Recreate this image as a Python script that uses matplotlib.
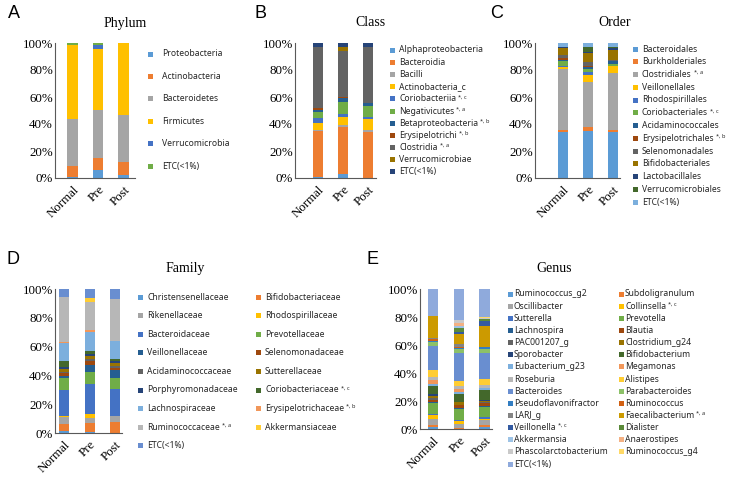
import numpy as np
import matplotlib
matplotlib.use("Agg")
import matplotlib.pyplot as plt
from matplotlib.patches import Rectangle

# taxonomic composition, % per group, stacked bottom -> top
groups = ["Normal", "Pre", "Post"]

phylum_names = ["Proteobacteria", "Actinobacteria", "Bacteroidetes", "Firmicutes",
                "Verrucomicrobia", "ETC(<1%)"]
phylum_sup = [""] * 6
phylum_vals = [[0.5, 5.9, 2.0],
               [8.4, 8.7, 10.0],
               [34.8, 35.5, 34.5],
               [54.8, 45.2, 53.2],
               [0.2, 3.2, 0.0],
               [1.3, 1.5, 0.3]]

class_names = ["Alphaproteobacteria", "Bacteroidia", "Bacilli", "Actinobacteria_c",
               "Coriobacteriia", "Negativicutes", "Betaproteobacteria", "Erysipelotrichi",
               "Clostridia", "Verrucomicrobiae", "ETC(<1%)"]
class_sup = ["", "", "", "", "*, c", "*, a", "*, b", "*, b", "*, a", "", ""]
class_vals = [[1.0, 2.7, 0.3],
              [33.8, 35.3, 34.0],
              [1.0, 1.3, 1.2],
              [5.2, 6.1, 8.2],
              [3.7, 2.3, 1.7],
              [4.4, 8.8, 8.2],
              [1.0, 2.5, 1.7],
              [1.5, 1.2, 0.3],
              [45.7, 33.8, 41.7],
              [0.0, 3.0, 0.0],
              [2.7, 3.0, 2.7]]

order_names = ["Bacteroidales", "Burkholderiales", "Clostridiales", "Veillonellales",
               "Rhodospirillales", "Coriobacteriales", "Acidaminococcales",
               "Erysipelotrichales", "Selenomonadales", "Bifidobacteriales",
               "Lactobacillales", "Verrucomicrobiales", "ETC(<1%)"]
order_sup = ["", "", "*, a", "", "", "*, c", "", "*, b", "", "", "", "", ""]
order_vals = [[34.3, 35.0, 34.0],
              [1.2, 2.8, 1.3],
              [45.2, 33.6, 42.2],
              [1.3, 4.9, 5.5],
              [0.7, 2.5, 0.3],
              [4.0, 1.9, 1.2],
              [0.7, 1.3, 2.0],
              [1.2, 1.2, 0.5],
              [2.5, 3.0, 0.5],
              [4.9, 6.1, 7.5],
              [1.0, 1.3, 1.5],
              [0.0, 3.2, 0.2],
              [3.0, 3.2, 3.3]]

family_names = ["Christensenellaceae", "Bifidobacteriaceae", "Rikenellaceae",
                "Rhodospirillaceae", "Bacteroidaceae", "Prevotellaceae",
                "Veillonellaceae", "Selenomonadaceae", "Acidaminococcaceae",
                "Sutterellaceae", "Porphyromonadaceae", "Coriobacteriaceae",
                "Lachnospiraceae", "Erysipelotrichaceae", "Ruminococcaceae",
                "Akkermansiaceae", "ETC(<1%)"]
family_sup = [""] * 11 + ["*, c", "", "*, b", "*, a", "", ""]
family_vals = [[1.6, 0.7, 0.3],
               [4.7, 6.0, 7.6],
               [4.6, 3.7, 3.9],
               [1.1, 2.6, 0.0],
               [17.9, 21.0, 18.5],
               [8.5, 8.1, 8.1],
               [1.4, 5.1, 5.4],
               [2.1, 2.8, 1.1],
               [0.7, 1.2, 1.9],
               [1.6, 2.0, 1.6],
               [1.8, 1.7, 1.6],
               [4.0, 2.0, 1.4],
               [12.3, 13.0, 12.5],
               [1.1, 1.4, 0.0],
               [30.8, 19.7, 29.1],
               [0.0, 2.8, 0.0],
               [5.8, 6.2, 7.0]]

genus_names = ["Ruminococcus_g2", "Subdoligranulum", "Oscillibacter", "Collinsella",
               "Sutterella", "Prevotella", "Lachnospira", "Blautia", "PAC001207_g",
               "Clostridium_g24", "Sporobacter", "Bifidobacterium", "Eubacterium_g23",
               "Megamonas", "Roseburia", "Alistipes", "Bacteroides", "Parabacteroides",
               "Pseudoflavonifractor", "Ruminococcus", "LARJ_g", "Faecalibacterium",
               "Veillonella", "Dialister", "Akkermansia", "Anaerostipes",
               "Phascolarctobacterium", "Ruminococcus_g4", "ETC(<1%)"]
genus_sup = ["", "", "", "*, c"] + [""] * 17 + ["*, a", "*, c"] + [""] * 6
genus_vals = [[1.2, 0.3, 1.2],
              [1.4, 0.3, 1.4],
              [4.5, 3.2, 4.1],
              [2.6, 1.7, 0.3],
              [1.0, 0.7, 1.3],
              [7.8, 8.1, 7.4],
              [0.7, 0.9, 0.9],
              [1.7, 1.7, 1.9],
              [1.2, 0.5, 1.0],
              [1.7, 1.6, 0.3],
              [1.4, 0.3, 0.6],
              [5.2, 5.9, 7.2],
              [1.9, 0.9, 1.6],
              [2.4, 2.4, 0.3],
              [2.4, 1.9, 2.1],
              [4.7, 3.6, 4.3],
              [17.8, 20.6, 18.7],
              [2.2, 2.4, 2.4],
              [1.1, 1.2, 1.4],
              [1.2, 0.2, 0.3],
              [1.2, 2.4, 0.2],
              [15.5, 7.1, 14.7],
              [0.0, 1.2, 3.8],
              [0.0, 2.9, 1.2],
              [0.0, 1.6, 0.2],
              [0.0, 2.4, 0.0],
              [0.0, 1.9, 0.3],
              [0.0, 0.0, 0.7],
              [19.2, 22.1, 20.2]]

# office-style series colours, in series order
office = ["#5B9BD5", "#ED7D31", "#A5A5A5", "#FFC000", "#4472C4", "#70AD47",
          "#255E91", "#9E480E", "#636363", "#997300", "#264478", "#43682B",
          "#7CAFDD", "#F1975A", "#B7B7B7", "#FFCD33", "#698ED0", "#8CC168",
          "#327DC2", "#D26012", "#848484", "#CC9A00", "#335AA1", "#5A8A39",
          "#9DC3E6", "#F4B183", "#C9C9C9", "#FFD966", "#8FAADC"]

W, H = 730, 483
fig = plt.figure(figsize=(W / 100, H / 100), dpi=100)
renderer = fig.canvas.get_renderer()

serif = "Liberation Serif"
sans = "Noto Sans"


def panel(vals, rect, xlim):
    x0, x1, ytop, ybot = rect
    ax = fig.add_axes([x0 / W, 1 - ybot / H, (x1 - x0) / W, (ybot - ytop) / H])
    x = np.arange(len(groups))
    bottom = np.zeros(len(groups))
    for i, v in enumerate(vals):
        ax.bar(x, v, 0.4, bottom=bottom, color=office[i], linewidth=0)
        bottom += np.array(v)
    ax.set_xlim(*xlim)
    ax.set_ylim(0, 100)
    ax.set_yticks(range(0, 101, 20))
    ax.set_yticklabels([f"{t}%" for t in range(0, 101, 20)], fontfamily=serif, fontsize=9.3)
    ax.set_xticks(x)
    ax.set_xticklabels(groups, fontfamily=serif, fontsize=9.3, rotation=45,
                       ha="right", rotation_mode="anchor")
    ax.tick_params(axis="y", length=0, pad=1.5)
    ax.tick_params(axis="x", length=0, pad=4)
    for s in ["top", "right"]:
        ax.spines[s].set_visible(False)
    for s in ["left", "bottom"]:
        ax.spines[s].set_color("#595959")
        ax.spines[s].set_linewidth(0.8)
    return ax


def legend(names, sups, xsq, xtxt, y0, dy, ncol=1, coldx=0):
    sq = 5
    for i, lab in enumerate(names):
        r, c = divmod(i, ncol)
        y = y0 + r * dy
        fig.patches.append(Rectangle(((xsq + c * coldx) / W, 1 - (y + sq / 2) / H),
                                     sq / W, sq / H, transform=fig.transFigure,
                                     color=office[i], linewidth=0))
        t = fig.text((xtxt + c * coldx) / W, 1 - y / H, lab, fontfamily=sans,
                     fontsize=6.2, va="center", color="#262626")
        if sups[i]:
            bb = t.get_window_extent(renderer)
            fig.text((bb.x1 + 2) / W, 1 - (y - 2) / H, sups[i], fontfamily=sans,
                     fontsize=4, va="center", color="#262626")


panel(phylum_vals, (55, 135, 43, 178), (-0.69, 2.45))
panel(class_vals, (295, 376, 43, 178), (-0.89, 2.3))
panel(order_vals, (535, 620, 43, 178), (-1.09, 2.26))
panel(family_vals, (55, 122, 289, 433), (-0.36, 2.27))
panel(genus_vals, (420, 492, 289, 429), (-0.52, 2.29))

legend(phylum_names, phylum_sup, 148, 162, 54, 22.4)
legend(class_names, class_sup, 390, 399, 50, 12.2)
legend(order_names, order_sup, 633, 642, 49, 12.75)
legend(family_names, family_sup, 138, 147, 297, 18.6, ncol=2, coldx=118)
legend(genus_names, genus_sup, 508, 514, 294, 12.15, ncol=2, coldx=111)

for lab, xp, yp in [("Phylum", 125, 26.7), ("Class", 370, 26), ("Order", 615, 26),
                    ("Family", 185, 272), ("Genus", 554, 271.7)]:
    fig.text(xp / W, 1 - yp / H, lab, fontfamily=serif, fontsize=10,
             ha="center", va="baseline")

for lab, xp, yp in [("A", 8, 14), ("B", 254, 14), ("C", 490, 14),
                    ("D", 7, 260), ("E", 367, 260)]:
    fig.text(xp / W, 1 - yp / H, lab, fontfamily="Liberation Sans", fontsize=13,
             ha="left", va="center")

fig.savefig("out.png", dpi=100)
